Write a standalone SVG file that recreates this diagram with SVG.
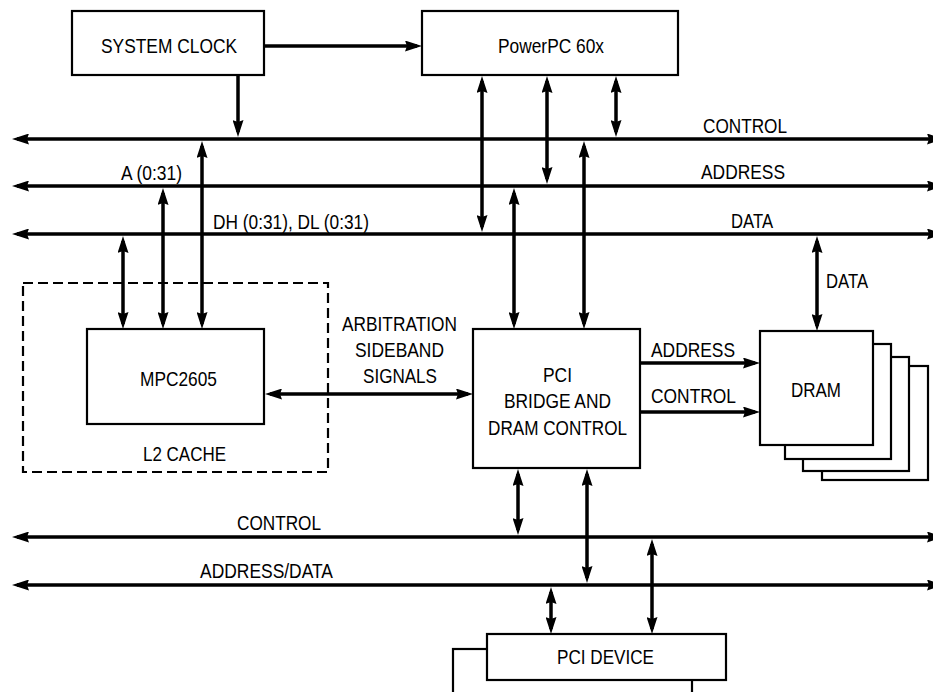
<svg xmlns="http://www.w3.org/2000/svg" width="933" height="692" viewBox="0 0 933 692">
<defs>
<style>
.box{fill:#fff;stroke:#000;stroke-width:2.2}
.dash{fill:none;stroke:#000;stroke-width:2.2;stroke-dasharray:10 5}
.bus{stroke:#000;stroke-width:3.5;fill:none}
.ln{stroke:#000;stroke-width:3.5;fill:none}
text{font-family:"Liberation Sans Narrow","Liberation Sans",Arial,sans-serif;font-size:21px;fill:#000;text-anchor:middle}
</style>
<marker id="ah" markerUnits="userSpaceOnUse" viewBox="0 0 17 11" markerWidth="17" markerHeight="11" refX="12" refY="5.5" orient="auto-start-reverse">
<path d="M0,0 L17,5.5 L0,11 L2,5.5 z" fill="#000"/>
</marker>
</defs>
<rect width="933" height="692" fill="#fff"/>

<g id="connectors">
<!-- buses -->
<line class="bus" x1="17" y1="139" x2="939" y2="139" marker-start="url(#ah)" marker-end="url(#ah)"/>
<line class="bus" x1="17" y1="186" x2="939" y2="186" marker-start="url(#ah)" marker-end="url(#ah)"/>
<line class="bus" x1="17" y1="234" x2="939" y2="234" marker-start="url(#ah)" marker-end="url(#ah)"/>
<line class="bus" x1="17" y1="537" x2="939" y2="537" marker-start="url(#ah)" marker-end="url(#ah)"/>
<line class="bus" x1="17" y1="585" x2="939" y2="585" marker-start="url(#ah)" marker-end="url(#ah)"/>
<!-- clock -->
<line class="ln" x1="264" y1="46" x2="417" y2="46" marker-end="url(#ah)"/>
<line class="ln" x1="238" y1="75" x2="238" y2="132" marker-end="url(#ah)"/>
<!-- MPC2605 to buses -->
<line class="ln" x1="123" y1="241" x2="123" y2="324" marker-start="url(#ah)" marker-end="url(#ah)"/>
<line class="ln" x1="163" y1="193" x2="163" y2="324" marker-start="url(#ah)" marker-end="url(#ah)"/>
<line class="ln" x1="202" y1="146" x2="202" y2="324" marker-start="url(#ah)" marker-end="url(#ah)"/>
<!-- PowerPC to buses -->
<line class="ln" x1="482" y1="81" x2="482" y2="227" marker-start="url(#ah)" marker-end="url(#ah)"/>
<line class="ln" x1="547" y1="81" x2="547" y2="179" marker-start="url(#ah)" marker-end="url(#ah)"/>
<line class="ln" x1="616" y1="81" x2="616" y2="132" marker-start="url(#ah)" marker-end="url(#ah)"/>
<!-- PCI bridge to processor buses -->
<line class="ln" x1="514" y1="193" x2="514" y2="324" marker-start="url(#ah)" marker-end="url(#ah)"/>
<line class="ln" x1="584" y1="146" x2="584" y2="324" marker-start="url(#ah)" marker-end="url(#ah)"/>
<!-- data to DRAM -->
<line class="ln" x1="817" y1="241" x2="817" y2="326" marker-start="url(#ah)" marker-end="url(#ah)"/>
<!-- arbitration -->
<line class="ln" x1="270" y1="394" x2="468" y2="394" marker-start="url(#ah)" marker-end="url(#ah)"/>
<!-- bridge to DRAM -->
<line class="ln" x1="641" y1="363" x2="755" y2="363" marker-end="url(#ah)"/>
<line class="ln" x1="641" y1="412" x2="755" y2="412" marker-end="url(#ah)"/>
<!-- bridge to PCI buses -->
<line class="ln" x1="518" y1="474" x2="518" y2="530" marker-start="url(#ah)" marker-end="url(#ah)"/>
<line class="ln" x1="587" y1="474" x2="587" y2="578" marker-start="url(#ah)" marker-end="url(#ah)"/>
<!-- PCI device to buses -->
<line class="ln" x1="551" y1="592" x2="551" y2="629" marker-start="url(#ah)" marker-end="url(#ah)"/>
<line class="ln" x1="652" y1="544" x2="652" y2="629" marker-start="url(#ah)" marker-end="url(#ah)"/>
</g>

<g id="bus-labels">
<text x="745" y="133" textLength="84" lengthAdjust="spacingAndGlyphs">CONTROL</text>
<text x="743" y="179" textLength="84" lengthAdjust="spacingAndGlyphs">ADDRESS</text>
<text x="752" y="228" textLength="42" lengthAdjust="spacingAndGlyphs">DATA</text>
<text x="151.5" y="180" textLength="61" lengthAdjust="spacingAndGlyphs">A (0:31)</text>
<text x="291" y="229" textLength="156" lengthAdjust="spacingAndGlyphs">DH (0:31), DL (0:31)</text>
<text x="279" y="530" textLength="84" lengthAdjust="spacingAndGlyphs">CONTROL</text>
<text x="266.5" y="578" textLength="133" lengthAdjust="spacingAndGlyphs">ADDRESS/DATA</text>
<text x="399.5" y="331" textLength="115" lengthAdjust="spacingAndGlyphs">ARBITRATION</text>
<text x="399.5" y="357" textLength="89" lengthAdjust="spacingAndGlyphs">SIDEBAND</text>
<text x="400" y="383" textLength="74" lengthAdjust="spacingAndGlyphs">SIGNALS</text>
<text x="693" y="357" textLength="84" lengthAdjust="spacingAndGlyphs">ADDRESS</text>
<text x="693.5" y="403" textLength="85" lengthAdjust="spacingAndGlyphs">CONTROL</text>
<text x="847" y="288" textLength="42" lengthAdjust="spacingAndGlyphs">DATA</text>
</g>

<g id="system-clock">
<rect class="box" x="72" y="11" width="192" height="64"/>
<text x="169" y="53" textLength="136" lengthAdjust="spacingAndGlyphs">SYSTEM CLOCK</text>
</g>

<g id="powerpc">
<rect class="box" x="422" y="11" width="256" height="64"/>
<text x="551" y="53" textLength="106" lengthAdjust="spacingAndGlyphs">PowerPC 60x</text>
</g>

<g id="l2-cache">
<rect class="dash" x="23" y="283" width="305" height="189"/>
<text x="184.5" y="461" textLength="83" lengthAdjust="spacingAndGlyphs">L2 CACHE</text>
</g>

<g id="mpc2605">
<rect class="box" x="87" y="329" width="177" height="95"/>
<text x="178.5" y="386" textLength="77" lengthAdjust="spacingAndGlyphs">MPC2605</text>
</g>

<g id="pci-bridge">
<rect class="box" x="473" y="329" width="167" height="139"/>
<text x="557.5" y="382" textLength="29" lengthAdjust="spacingAndGlyphs">PCI</text>
<text x="557.5" y="408" textLength="107" lengthAdjust="spacingAndGlyphs">BRIDGE AND</text>
<text x="557.5" y="435" textLength="139" lengthAdjust="spacingAndGlyphs">DRAM CONTROL</text>
</g>

<g id="dram">
<rect class="box" x="822" y="366" width="106" height="114"/>
<rect class="box" x="803" y="357" width="106" height="114"/>
<rect class="box" x="785" y="344" width="106" height="115"/>
<rect class="box" x="760" y="331" width="113" height="114"/>
<text x="816" y="397" textLength="50" lengthAdjust="spacingAndGlyphs">DRAM</text>
</g>

<g id="pci-device">
<rect class="box" x="453" y="649" width="239" height="70"/>
<rect class="box" x="487" y="634" width="239" height="46"/>
<text x="605.5" y="664" textLength="97" lengthAdjust="spacingAndGlyphs">PCI DEVICE</text>
</g>
</svg>
